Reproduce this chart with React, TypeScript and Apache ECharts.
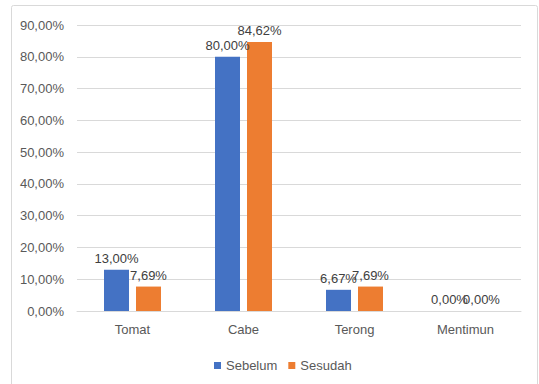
import React, { useEffect, useRef } from "react";
import * as echarts from "echarts";

const categories = ["Tomat", "Cabe", "Terong", "Mentimun"];
const sebelum = [13.0, 80.0, 6.67, 0.0];
const sesudah = [7.69, 84.62, 7.69, 0.0];
const seriesNames = ["Sebelum", "Sesudah"];

const fmt = (v: number) => v.toFixed(2).replace(".", ",") + "%";
const FONT = "Liberation Sans, Arial, sans-serif";

export default function App() {
  const ref = useRef<HTMLDivElement>(null);
  useEffect(() => {
    const chart = echarts.init(ref.current!, null, { renderer: "svg" });
    const label = {
      show: true,
      position: "top" as const,
      color: "#404040",
      fontSize: 13,
      fontFamily: FONT,
      formatter: (p: any) => fmt(p.value),
    };
    chart.setOption({
      animation: false,
      backgroundColor: "#fff",
      graphic: [
        {
          type: "rect",
          shape: { x: 11.5, y: 5.5, width: 526, height: 400, r: 2 },
          style: { fill: "none", stroke: "#D9D9D9", lineWidth: 1 },
          silent: true,
        },
      ],
      grid: { left: 77, right: 18, top: 25, bottom: 73 },
      legend: {
        data: seriesNames,
        left: 209,
        top: 354,
        icon: "rect",
        itemWidth: 7,
        itemHeight: 7,
        itemGap: 11,
        textStyle: { color: "#595959", fontSize: 13, fontFamily: FONT },
      },
      xAxis: {
        type: "category",
        data: categories,
        axisLine: { lineStyle: { color: "#D9D9D9" } },
        axisTick: { show: false },
        axisLabel: { color: "#595959", fontSize: 13, fontFamily: FONT, margin: 12 },
      },
      yAxis: {
        type: "value",
        min: 0,
        max: 90,
        interval: 10,
        axisLine: { show: false },
        axisTick: { show: false },
        splitLine: { lineStyle: { color: "#D9D9D9" } },
        axisLabel: {
          color: "#595959",
          fontSize: 13,
          fontFamily: FONT,
          margin: 13,
          formatter: (v: number) => fmt(v),
        },
      },
      series: [
        {
          name: seriesNames[0],
          type: "bar",
          data: sebelum,
          barWidth: 25,
          barGap: "28%",
          itemStyle: { color: "#4472C4" },
          label,
        },
        {
          name: seriesNames[1],
          type: "bar",
          data: sesudah,
          barWidth: 25,
          barGap: "28%",
          itemStyle: { color: "#ED7D31" },
          label,
        },
      ],
    });
    return () => chart.dispose();
  }, []);
  return (
    <div
      ref={ref}
      style={{ position: "absolute", left: 0, top: 0, width: 539, height: 384 }}
    />
  );
}
